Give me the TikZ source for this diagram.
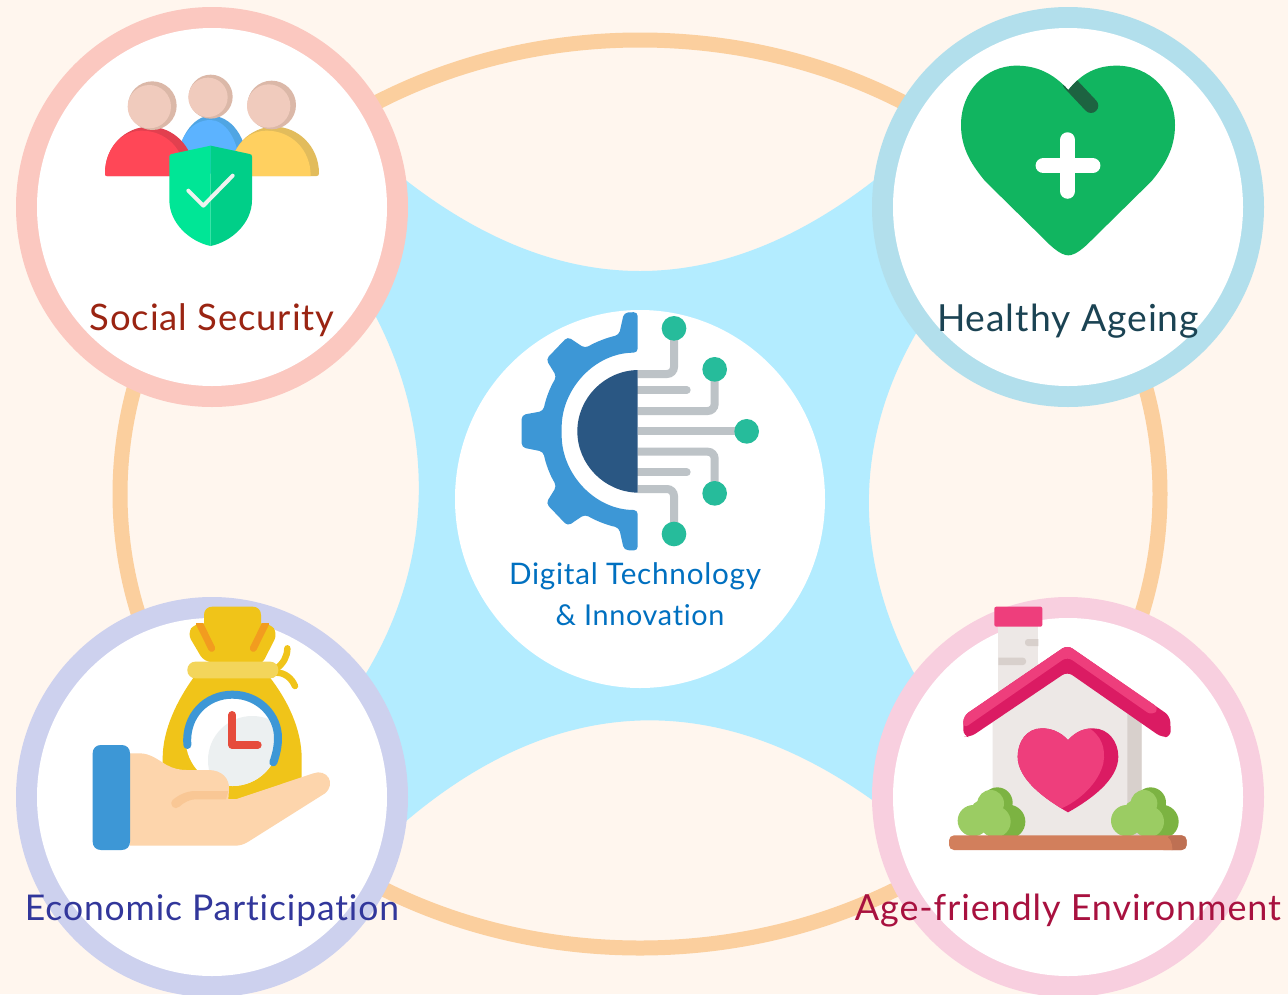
\documentclass[tikz,border=0pt]{standalone}
\usepackage{fontspec}
\usepackage{graphicx}
\setmainfont{Lato}[LetterSpace=2.5,Ligatures=NoCommon]
\definecolor{bgc}{HTML}{FFF6EE}
\definecolor{skyc}{HTML}{B3ECFF}
\definecolor{ringo}{HTML}{FBCF9E}
\definecolor{rinra}{HTML}{FBC8C0}
\definecolor{rinrb}{HTML}{B2DFEC}
\definecolor{rinrc}{HTML}{CDD1EE}
\definecolor{rinrd}{HTML}{F8CFDF}
\definecolor{txa}{HTML}{9A2412}
\definecolor{txb}{HTML}{1B4353}
\definecolor{txc}{HTML}{32379B}
\definecolor{txd}{HTML}{A8113F}
\definecolor{txe}{HTML}{0070C0}
\definecolor{iblue}{HTML}{3D97D6}
\definecolor{idark}{HTML}{2A5783}
\definecolor{igrey}{HTML}{BDC3C7}
\definecolor{igreen}{HTML}{26BC9B}
\definecolor{skin}{HTML}{F0CBBD}
\definecolor{skins}{HTML}{DBB8A8}
\definecolor{hand}{HTML}{FDD5AC}
\definecolor{handd}{HTML}{F9C795}
\definecolor{gold}{HTML}{F0C419}
\definecolor{band}{HTML}{F3D55B}
\definecolor{orng}{HTML}{F29C1F}
\definecolor{clkg}{HTML}{ECF0F1}
\definecolor{clkr}{HTML}{E64C3C}
\definecolor{wall}{HTML}{EDE8E6}
\definecolor{walld}{HTML}{D8D0CC}
\definecolor{pinkl}{HTML}{EE3E7C}
\definecolor{pinkd}{HTML}{DB1B63}
\definecolor{bushl}{HTML}{9BCC63}
\definecolor{bushd}{HTML}{7CB342}
\definecolor{soil}{HTML}{D27F5C}
\definecolor{soild}{HTML}{BE7053}
\definecolor{hgreen}{HTML}{11B560}
\definecolor{hdark}{HTML}{1D6341}
\definecolor{redm}{HTML}{FF4757}
\definecolor{redd}{HTML}{E2404F}
\definecolor{bluem}{HTML}{5CB3FF}
\definecolor{blued}{HTML}{50A5E3}
\definecolor{yelm}{HTML}{FFD060}
\definecolor{yeld}{HTML}{E2BC5C}
\definecolor{shl}{HTML}{00E696}
\definecolor{shr}{HTML}{00CF88}
\definecolor{tick}{HTML}{EEF2EF}
\tikzset{
  zoomed/.style={x=0.33333pt,y=-0.33333pt},
  label text/.style={inner sep=0pt,font=\fontsize{36}{40}\selectfont},
  wire/.style={draw=igrey,line width=8pt,rounded corners=7pt},
  stub/.style={draw=igrey,line width=8pt,line cap=round},
}
\newcommand{\fitw}[2]{\resizebox{#1}{!}{#2}}
\begin{document}
\begin{tikzpicture}[x=1pt,y=-1pt]
\useasboundingbox (0,0) rectangle (1288,994);
\fill[bgc] (0,0) rectangle (1288,994);
% sky shape
\fill[skyc] (403,178) .. controls (561,302) and (719,302) .. (877,178)
  -- (918,330) .. controls (853,440) and (853,560) .. (915,675)
  -- (875,802) .. controls (720,690) and (560,690) .. (405,822)
  -- (365,675) .. controls (435,560) and (435,430) .. (375,315) -- cycle;
% orange ring
\draw[ringo,line width=15pt] (640,494) ellipse [x radius=520,y radius=454];
% centre
\fill[white] (640,499) ellipse [x radius=185,y radius=189];
% four rings
\fill[rinra] (212,207) ellipse [x radius=196,y radius=200];
\fill[white] (212,207) ellipse [x radius=175,y radius=179];
\fill[rinrb] (1068,207) ellipse [x radius=196,y radius=200];
\fill[white] (1068,207) ellipse [x radius=175,y radius=179];
\fill[rinrc] (212,797) ellipse [x radius=196,y radius=200];
\fill[white] (212,797) ellipse [x radius=175,y radius=179];
\fill[rinrd] (1068,797) ellipse [x radius=196,y radius=200];
\fill[white] (1068,797) ellipse [x radius=175,y radius=179];

% ---- people
\begin{scope}[shift={(90,60)},zoomed]
  \fill[blued] (258,340) .. controls (258,235) and (310,167) .. (362,167) .. controls (420,167) and (475,225) .. (475,340) -- cycle;
  \fill[bluem] (258,340) .. controls (258,240) and (300,180) .. (362,180) .. controls (400,180) and (450,230) .. (450,340) -- cycle;
  \fill[skins] (362,110) circle [radius=66];
  \fill[skin] (354,112) circle [radius=59];
  \fill[redd] (45,340) .. controls (45,260) and (105,200) .. (178,200) .. controls (250,200) and (312,260) .. (312,340) .. controls (312,345) and (312,348) .. (305,348) -- (50,348) .. controls (46,348) and (45,345) .. (45,340) -- cycle;
  \fill[redm] (45,340) .. controls (45,265) and (95,212) .. (155,212) .. controls (225,212) and (285,265) .. (285,348) -- (50,348) .. controls (46,348) and (45,345) .. (45,340) -- cycle;
  \fill[skins] (187,137) circle [radius=73];
  \fill[skin] (178,140) circle [radius=65];
  \fill[yeld] (420,340) .. controls (420,260) and (480,200) .. (553,200) .. controls (625,200) and (687,260) .. (687,340) .. controls (687,345) and (685,348) .. (680,348) -- (425,348) -- cycle;
  \fill[yelm] (420,348) .. controls (420,265) and (470,212) .. (530,212) .. controls (600,212) and (662,265) .. (662,348) -- cycle;
  \fill[skins] (545,135) circle [radius=73];
  \fill[skin] (536,138) circle [radius=65];
  \fill[shl] (362,257) -- (245,282) .. controls (240,283) and (238,285) .. (238,290) -- (238,420) .. controls (238,490) and (300,545) .. (362,558) -- cycle;
  \fill[shr] (362,257) -- (479,282) .. controls (484,283) and (486,285) .. (486,290) -- (486,420) .. controls (486,490) and (424,545) .. (362,558) -- cycle;
  \draw[tick,line width=4pt,line cap=round,line join=round] (295,392) -- (340,437) -- (428,347);
\end{scope}

% ---- green heart
\begin{scope}[shift={(950,55)},zoomed]
  \path[fill=hgreen,save path=\hrtpath] (355,105) .. controls (310,55) and (260,32) .. (200,32) .. controls (105,32) and (33,110) .. (33,210) .. controls (33,285) and (70,335) .. (105,378) -- (300,570) .. controls (330,597) and (345,601) .. (355,601) .. controls (365,601) and (380,597) .. (410,570) -- (605,378) .. controls (640,335) and (675,285) .. (675,210) .. controls (675,110) and (600,32) .. (500,32) .. controls (440,32) and (395,55) .. (355,105) -- cycle;
  \begin{scope}
    \clip[use path=\hrtpath];
    \draw[hdark,line width=14.6pt,line cap=round] (360,85) -- (423,152);
  \end{scope}
  \draw[white,line width=15.5pt,line cap=round] (353,255) -- (353,408);
  \draw[white,line width=15.5pt,line cap=round] (280,332) -- (428,332);
\end{scope}

% ---- gear
\begin{scope}[shift={(500,300)},zoomed]
  \draw[wire] (413,222) -- (522,222) -- (522,85);
  \draw[wire] (413,333) -- (644,333) -- (644,208);
  \draw[stub] (413,270) -- (560,270);
  \draw[igrey,line width=8pt] (413,394) -- (740,394);
  \draw[wire] (413,455) -- (644,455) -- (644,580);
  \draw[stub] (413,517) -- (560,517);
  \draw[wire] (413,567) -- (522,567) -- (522,702);
  \fill[igreen] (522,85) circle [radius=37];
  \fill[igreen] (644,208) circle [radius=37];
  \fill[igreen] (740,394) circle [radius=37];
  \fill[igreen] (644,580) circle [radius=37];
  \fill[igreen] (522,702) circle [radius=37];
  \fill[idark] (413,210) .. controls (313,212) and (232,295) .. (232,394) .. controls (232,493) and (313,576) .. (413,578) -- cycle;
  \fill[iblue,rounded corners=4pt] (413,36) -- (372,38) -- (357,105) .. controls (320,113) and (285,127) .. (255,145) -- (203,110) -- (138,178) -- (170,230) .. controls (150,262) and (137,297) .. (130,333) -- (65,345) -- (65,442) -- (130,455) .. controls (137,491) and (150,526) .. (170,558) -- (138,610) -- (203,678) -- (255,643) .. controls (285,661) and (320,675) .. (357,683) -- (372,750) -- (413,752) -- (413,630) .. controls (285,630) and (185,522) .. (185,394) .. controls (185,266) and (285,158) .. (413,158) -- cycle;
\end{scope}

% ---- money bag
\begin{scope}[shift={(80,600)},zoomed]
  \draw[gold,line width=6.5pt,line cap=round] (590,205) .. controls (610,190) and (622,170) .. (622,145);
  \draw[gold,line width=6.5pt,line cap=round] (590,218) .. controls (615,218) and (635,235) .. (645,258);
  \fill[gold] (350,220) .. controls (290,300) and (248,390) .. (248,475) -- (248,600) -- (665,600) -- (665,475) .. controls (665,390) and (625,300) .. (560,220) -- cycle;
  \fill[gold,rounded corners=7pt] (372,185) -- (322,100) -- (345,70) -- (570,70) -- (593,100) -- (545,195) -- cycle;
  \begin{scope}
    \clip (300,70) rectangle (620,200);
    \draw[orng,line width=7pt,line cap=round] (358,70) -- (395,145);
    \draw[orng,line width=7pt,line cap=round] (557,70) -- (520,145);
  \end{scope}
  \fill[gold] (372,72) -- (372,45) .. controls (372,30) and (382,20) .. (397,20) -- (518,20) .. controls (533,20) and (543,30) .. (543,45) -- (543,72) -- cycle;
  \fill[band,rounded corners=8pt] (322,185) rectangle (595,235);
  \fill[white] (457,418) circle [radius=140];
  \begin{scope}
    \clip (457,418) circle [radius=140];
    \fill[clkg] (517,481) circle [radius=133];
  \end{scope}
  \draw[iblue,line width=8pt,line cap=round] (322,435) .. controls (315,345) and (380,284) .. (457,284) .. controls (540,284) and (595,350) .. (594,415) .. controls (594,440) and (588,465) .. (580,487);
  \draw[clkr,line width=8pt,line cap=round,line join=round] (457,345) -- (457,435) -- (533,435);
  \fill[hand] (150,460) -- (180,460) .. controls (210,460) and (235,480) .. (260,495) .. controls (280,506) and (300,510) .. (320,510) -- (385,510) .. controls (425,510) and (450,535) .. (447,570) -- (445,597) -- (470,597) -- (700,520) .. controls (740,505) and (770,550) .. (735,580) -- (505,725) .. controls (492,733) and (480,737) .. (465,737) -- (150,737) -- cycle;
  \fill[handd] (445,573) -- (345,573) .. controls (320,573) and (295,585) .. (278,600) .. controls (265,615) and (285,633) .. (298,620) .. controls (310,608) and (330,598) .. (345,598) -- (438,598) -- cycle;
  \fill[iblue] (38,460) .. controls (38,445) and (48,435) .. (63,435) -- (125,435) .. controls (140,435) and (150,445) .. (150,460) -- (150,725) .. controls (150,740) and (140,750) .. (125,750) -- (63,750) .. controls (48,750) and (38,740) .. (38,725) -- cycle;
\end{scope}

% ---- house
\begin{scope}[shift={(940,600)},zoomed]
  \fill[wall] (175,75) rectangle (295,300);
  \begin{scope}
    \clip (175,75) rectangle (295,300);
    \fill[walld,rounded corners=3pt] (255,117) rectangle (305,138);
    \fill[walld,rounded corners=3pt] (165,173) rectangle (258,195);
  \end{scope}
  \fill[pinkl,rounded corners=2pt] (163,20) rectangle (307,80);
  \fill[wall] (158,360) -- (382,205) -- (605,350) -- (605,710) -- (158,710) -- cycle;
  \fill[walld] (562,310) -- (605,340) -- (605,710) -- (562,710) -- cycle;
  \fill[pinkd,rounded corners=6pt] (382,135) -- (690,348) -- (693,410) -- (665,412) -- (382,215) -- (90,412) -- (70,408) -- (70,348) -- cycle;
  \fill[pinkl,rounded corners=6pt] (382,135) -- (658,325) -- (636,347) -- (382,170) -- (70,386) -- (70,348) -- cycle;
  \path[fill=pinkd,save path=\hspath] (384,420) .. controls (360,395) and (335,385) .. (305,385) .. controls (260,385) and (233,425) .. (233,470) .. controls (233,540) and (320,600) .. (384,637) .. controls (450,600) and (535,540) .. (535,470) .. controls (535,425) and (505,385) .. (460,385) .. controls (430,385) and (408,395) .. (384,420) -- cycle;
  \begin{scope}
    \clip[use path=\hspath];
    \fill[pinkl] (200,360) -- (440,380) .. controls (485,405) and (498,445) .. (490,490) .. controls (475,550) and (420,600) .. (365,625) -- (200,660) -- cycle;
  \end{scope}
  % bushes
  \foreach \dx in {0,460}{
    \begin{scope}[xshift=\dx*0.33333pt]
      \fill[bushd] (205,665) circle [radius=51];
      \fill[bushd] (172,608) circle [radius=46];
      \fill[bushl] (100,662) circle [radius=47];
      \fill[bushl] (132,640) circle [radius=42];
      \fill[bushl] (165,665) circle [radius=47];
      \fill[bushl] (152,610) circle [radius=40];
    \end{scope}
  }
  \fill[soil,rounded corners=5pt] (27,706) rectangle (740,750);
  \fill[soild,rounded corners=5pt] (680,706) rectangle (740,750);
  \fill[soil] (670,706) .. controls (690,710) and (697,725) .. (697,750) -- (670,750) -- cycle;
\end{scope}

% ---- labels
\node[label text,text=txa] (social) at (212,320) {\fitw{245pt}{Social Security}};
\node[label text,text=txb] (healthy) at (1068,321) {\fitw{262pt}{Healthy Ageing}};
\node[label text,text=txc] (economic) at (212,911) {\fitw{374pt}{Economic Participation}};
\node[label text,text=txd] (agefriendly) at (1068,911) {\fitw{426pt}{Age-friendly Environment}};
\node[label text,text=txe] (digitala) at (635,576) {\fitw{252pt}{Digital Technology}};
\node[label text,text=txe] (digitalb) at (640,615) {\fitw{169pt}{\& Innovation}};
\end{tikzpicture}
\end{document}
